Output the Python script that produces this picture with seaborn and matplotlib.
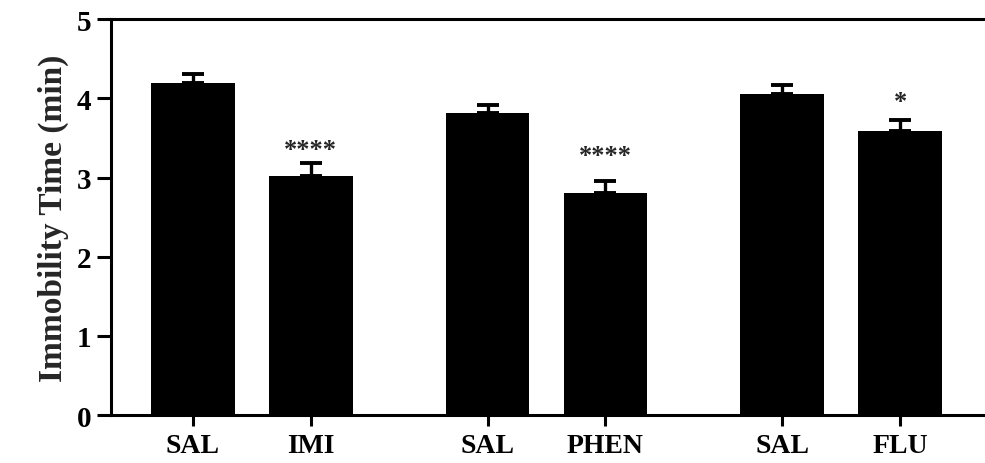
import numpy as np
import pandas as pd
import matplotlib
matplotlib.use("Agg")
import matplotlib.pyplot as plt
import seaborn as sns

# Data
groups = ["SAL", "IMI", "SAL", "PHEN", "SAL", "FLU"]
means = [4.20, 3.02, 3.82, 2.81, 4.06, 3.59]
sems = [0.11, 0.16, 0.10, 0.15, 0.11, 0.14]
signif = ["", "****", "", "****", "", "*"]

# layout (style): positions with gaps between pairs
xpos = [0, 1, 2.5, 3.5, 5, 6]
star_offsets = [0, 10, 0, 18, 0, 13]  # points above error cap

sns.set_theme(style="white")
plt.rcParams["font.family"] = ["Liberation Serif", "DejaVu Serif"]
plt.rcParams["font.weight"] = "bold"

df = pd.DataFrame({"x": xpos, "mean": means, "group": groups})

fig = plt.figure(figsize=(9.85, 4.64), dpi=100)
ax = fig.add_axes([0.1127, 0.1034, 0.8873, 0.853])

sns.barplot(data=df, x="x", y="mean", native_scale=True, width=0.71,
            color="black", edgecolor="black", linewidth=0, errorbar=None, ax=ax,
            saturation=1)

ax.errorbar(xpos, means, yerr=[np.zeros(len(sems)), sems], fmt="none",
            ecolor="black", elinewidth=2.4, capsize=8, capthick=2.8)

for x, m, s, lab, off in zip(xpos, means, sems, signif, star_offsets):
    if lab:
        ax.annotate(lab, (x, m + s), xytext=(0, off), textcoords="offset points",
                    ha="center", va="center", fontsize=19, fontweight="bold")

ax.set_xlim(-0.695, 6.72)
ax.set_ylim(0, 5)
ax.set_yticks([0, 1, 2, 3, 4, 5])
ax.set_xticks(xpos)
ax.set_xticklabels(groups)
ax.set_xlabel("")
ax.set_ylabel("Immobility Time (min)", fontsize=24, fontweight="bold", labelpad=6)

for side in ["left", "bottom", "top"]:
    ax.spines[side].set_visible(True)
    ax.spines[side].set_linewidth(2.2)
    ax.spines[side].set_color("black")
ax.spines["right"].set_visible(False)

ax.tick_params(axis="y", direction="out", length=10, width=2.2, labelsize=21,
               left=True, pad=4, colors="black")
ax.tick_params(axis="x", direction="out", length=8, width=2.2, labelsize=20,
               bottom=True, pad=5, colors="black")
for lbl in ax.get_xticklabels() + ax.get_yticklabels():
    lbl.set_fontweight("bold")

fig.savefig("out.png", dpi=100)
